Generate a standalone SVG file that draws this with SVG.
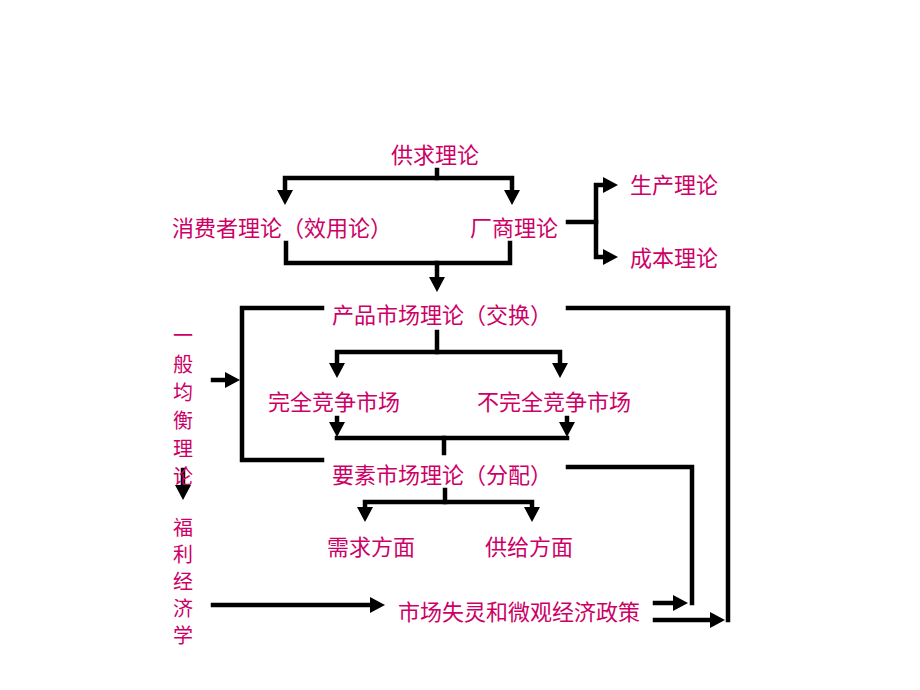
<svg xmlns="http://www.w3.org/2000/svg" width="920" height="690" viewBox="0 0 920 690">
<style>
.t{font-family:"Noto Sans CJK SC","Noto Sans CJK TC",sans-serif;font-size:22px;fill:#CC0066;dominant-baseline:central}
.v{font-family:"Noto Sans CJK SC","Noto Sans CJK TC",sans-serif;font-size:20px;fill:#CC0066;text-anchor:middle;dominant-baseline:central}
.c{fill:none;stroke:#000;stroke-width:4.5;stroke-linejoin:miter;stroke-linecap:square}
.a{marker-end:url(#ah)}
.b{marker-start:url(#ah);marker-end:url(#ah)}
</style>
<defs>
<marker id="ah" viewBox="0 0 16 16" refX="1" refY="8" markerWidth="16" markerHeight="16" markerUnits="userSpaceOnUse" orient="auto-start-reverse">
<path d="M0,0 L15,8 L0,16 z" fill="#000"/>
</marker>
</defs>
<rect width="920" height="690" fill="#fff"/>
<g id="connectors">
<path class="c" d="M437,170 V178"/>
<path class="c b" d="M285,191 V178 H512 V191"/>
<path class="c" d="M286,243 V263 H510 V243"/>
<path class="c a" d="M437,263 V278"/>
<path class="c" d="M568,222 H596"/>
<path class="c b" d="M604,185 H596 V257 H604"/>
<path class="c" d="M322,308 H242 V460 H322"/>
<path class="c a" d="M213,380 H226"/>
<path class="c" d="M437,332 V352"/>
<path class="c b" d="M337,364 V352 H560 V364"/>
<path class="c" d="M337,438 H567"/>
<path class="c a" d="M337,418 V423"/>
<path class="c a" d="M567,418 V423"/>
<path class="c" d="M444,438 V453"/>
<path class="c" d="M568,308 H728 V620"/>
<path class="c a" d="M655,620 H711"/>
<path class="c" d="M568,467 H692 V603"/>
<path class="c a" d="M655,603 H674"/>
<path class="c" d="M445,490 V502"/>
<path class="c b" d="M365,508 V502 H532 V508"/>
<path class="c a" d="M213,605 H371"/>
<path class="c a" d="M183,470 V486"/>
</g>
<g id="n_gongqiu"><text class="t" x="435" y="153" text-anchor="middle">供求理论</text></g>
<g id="n_xiaofeizhe"><text class="t" x="172" y="226">消费者理论（效用论）</text></g>
<g id="n_changshang"><text class="t" x="470" y="226">厂商理论</text></g>
<g id="n_shengchan"><text class="t" x="630" y="183">生产理论</text></g>
<g id="n_chengben"><text class="t" x="630" y="256">成本理论</text></g>
<g id="n_chanpin"><text class="t" x="332" y="313">产品市场理论（交换）</text></g>
<g id="n_wanquan"><text class="t" x="268" y="400">完全竞争市场</text></g>
<g id="n_buwanquan"><text class="t" x="477" y="400">不完全竞争市场</text></g>
<g id="n_yaosu"><text class="t" x="332" y="473">要素市场理论（分配）</text></g>
<g id="n_xuqiu"><text class="t" x="327" y="545">需求方面</text></g>
<g id="n_gongji"><text class="t" x="485" y="545">供给方面</text></g>
<g id="n_shichang"><text class="t" x="398" y="610">市场失灵和微观经济政策</text></g>
<g id="n_yiban"><text class="v"><tspan x="183" y="334">一</tspan><tspan x="183" y="363">般</tspan><tspan x="183" y="391">均</tspan><tspan x="183" y="419">衡</tspan><tspan x="183" y="447">理</tspan><tspan x="183" y="475">论</tspan></text></g>
<g id="n_fuli"><text class="v"><tspan x="183" y="526">福</tspan><tspan x="183" y="553">利</tspan><tspan x="183" y="580">经</tspan><tspan x="183" y="607">济</tspan><tspan x="183" y="634">学</tspan></text></g>
</svg>
